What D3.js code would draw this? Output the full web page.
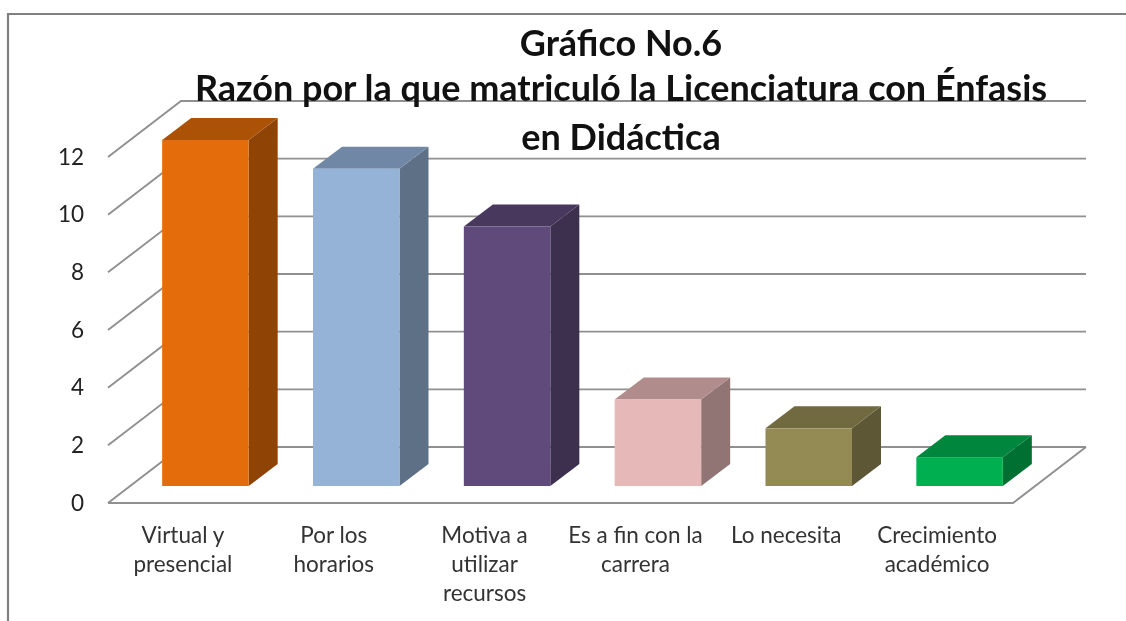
<!DOCTYPE html>
<html><head><meta charset="utf-8">
<script src="https://cdnjs.cloudflare.com/ajax/libs/d3/7.8.5/d3.min.js"></script>
<style>html,body{margin:0;padding:0;background:#fff;overflow:hidden}svg{display:block;filter:blur(0.45px)}text{font-family:Lato,"Open Sans",sans-serif}</style>
</head><body><svg id="c" width="1126" height="621"></svg>
<script>
const categories=[["Virtual y","presencial"],["Por los","horarios"],["Motiva a","utilizar","recursos"],["Es a fin con la","carrera"],["Lo necesita"],["Crecimiento","académico"]];
const values=[12,11,9,3,2,1];
const yTicks=[0,2,4,6,8,10,12];
const frontColors=["#e46c0a","#95b3d7","#604a7b","#e6b9b8","#948a54","#00b050"];
const topColors=["#ac5207","#7088a6","#49385d","#b08d8c","#716940","#00863d"];
const sideColors=["#8f4406","#5e7086","#3d2f4e","#917574","#5d5735","#006f32"];
const titleLines=["Gráfico No.6","Razón por la que matriculó la Licenciatura con Énfasis","en Didáctica"];

const svg=d3.select("#c");
const ink="#222",grid="#909090";
const y=d3.scaleLinear().domain([0,12]).range([503,157]);
const x=d3.scaleBand().domain(d3.range(6)).range([108,1013]);
const depth={dx:73,dy:-56}, barDepth={dx:29,dy:-22}, barLift={dx:22,dy:-17};
const barInset=(x.bandwidth()-86.5)/2;

// frame
svg.append("path").attr("d","M8,621V14H1126").attr("fill","none").attr("stroke","#808080").attr("stroke-width",2.2);

// walls
yTicks.forEach(t=>{
  svg.append("path").attr("fill","none").attr("stroke",grid).attr("stroke-width",1.9)
    .attr("d",`M${x.range()[0]},${y(t)}L${x.range()[0]+depth.dx},${y(t)+depth.dy}H${x.range()[1]+depth.dx}`);
});
// floor
svg.append("path").attr("fill","none").attr("stroke",grid).attr("stroke-width",1.9)
  .attr("d",`M${x.range()[0]},${y(0)}H${x.range()[1]}L${x.range()[1]+depth.dx},${y(0)+depth.dy}`);

// bars
const g=svg.selectAll("g.bar").data(values).join("g").attr("class","bar");
const L=i=>x(i)+barInset+barLift.dx, R=i=>L(i)+86.5, B=y(0)+barLift.dy, T=v=>y(v)+barLift.dy;
g.append("path").attr("fill",(d,i)=>sideColors[i])
  .attr("d",(d,i)=>`M${R(i)},${B}L${R(i)+barDepth.dx},${B+barDepth.dy}V${T(d)+barDepth.dy}L${R(i)},${T(d)}Z`);
g.append("path").attr("fill",(d,i)=>topColors[i])
  .attr("d",(d,i)=>`M${L(i)},${T(d)}L${L(i)+barDepth.dx},${T(d)+barDepth.dy}H${R(i)+barDepth.dx}L${R(i)},${T(d)}Z`);
g.append("rect").attr("fill",(d,i)=>frontColors[i])
  .attr("x",(d,i)=>L(i)).attr("y",d=>T(d)).attr("width",86.5).attr("height",d=>B-T(d));

// y axis labels
svg.selectAll("text.yt").data(yTicks).join("text").attr("class","yt")
  .attr("x",84).attr("y",d=>y(d)+7.5).attr("text-anchor","end")
  .attr("font-size",22.5).attr("fill",ink).text(d=>d);

// category labels
categories.forEach((lines,i)=>{
  lines.forEach((l,j)=>{
    svg.append("text").attr("x",x(i)+x.bandwidth()/2-0.5).attr("y",543+j*29)
      .attr("text-anchor","middle").attr("font-size",22.5).attr("fill","#333").text(l);
  });
});

// title
titleLines.forEach((l,j)=>{
  svg.append("text").attr("x",621).attr("y",[56,101,150][j]).attr("text-anchor","middle")
    .attr("font-size",36).attr("font-weight",700).attr("fill","#111").text(l);
});
</script></body></html>
